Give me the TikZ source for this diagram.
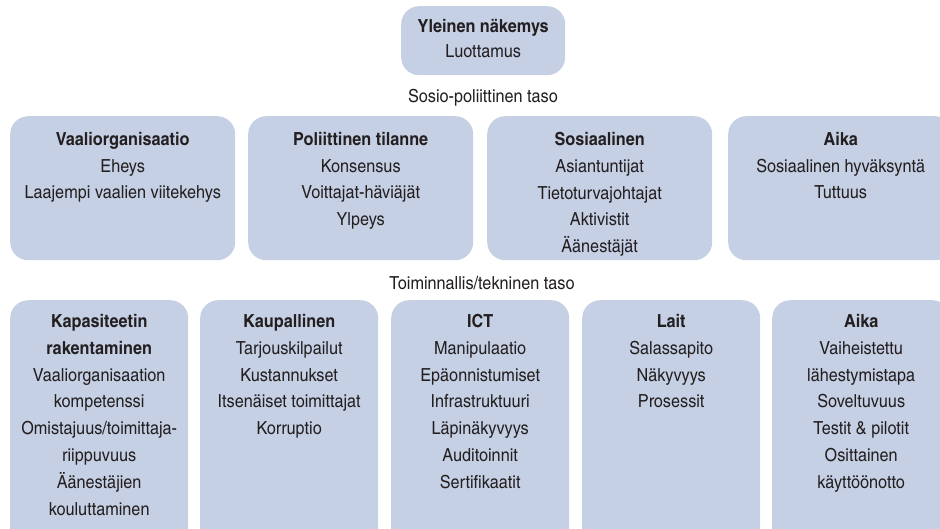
\documentclass[tikz,border=0pt]{standalone}
\usepackage{xcolor}
\usepackage{fontspec}
\setmainfont{texgyreheroscn}[Extension=.otf, UprightFont=*-regular, BoldFont=*-bold, FakeStretch=1.1]
\definecolor{tilefill}{RGB}{198,208,228}
\definecolor{inkdark}{RGB}{35,31,32}

\begin{document}
\begin{tikzpicture}[
  x=1pt, y=-1pt,
  tile/.style={fill=tilefill, rounded corners=18pt, anchor=north west, inner sep=0pt},
  headtile/.style={tile, minimum width=164pt, minimum height=69pt},
  midtile/.style={tile, minimum width=225pt, minimum height=144pt},
  lowtile/.style={tile, minimum width=178pt, minimum height=260pt},
  words/.style={anchor=north, align=center, inner sep=0pt, text=inkdark, font=\fontsize{18}{26.8}\selectfont},
  taso/.style={anchor=base, inner sep=0pt, text=inkdark, font=\fontsize{18}{20}\selectfont}
]
\clip (0,0) rectangle (940,528);

\node[headtile] (yleinen) at (401,6) {};
\node[words] (yleinen text) at ([yshift=-13pt]yleinen.north) {\textbf{Yleinen näkemys}\\[-2pt]Luottamus};

\node[taso] (sosio) at (483,102) {Sosio-poliittinen taso};

\node[midtile] (vaali) at (10,116) {};
\node[midtile] (politiikka) at (248,116) {};
\node[midtile] (sosiaalinen) at (487,116) {};
\node[midtile] (aika) at (728,116) {};
\node[words] (vaali text) at ([yshift=-16pt]vaali.north) {\textbf{Vaaliorganisaatio}\\Eheys\\Laajempi vaalien viitekehys};
\node[words] (politiikka text) at ([yshift=-16pt]politiikka.north) {\textbf{Poliittinen tilanne}\\Konsensus\\Voittajat-häviäjät\\Ylpeys};
\node[words] (sosiaalinen text) at ([yshift=-16pt]sosiaalinen.north) {\textbf{Sosiaalinen}\\Asiantuntijat\\Tietoturvajohtajat\\Aktivistit\\Äänestäjät};
\node[words] (aika text) at ([yshift=-16pt]aika.north) {\textbf{Aika}\\Sosiaalinen hyväksyntä\\Tuttuus};

\node[taso] (tekninen) at (482,289) {Toiminnallis/tekninen taso};

\node[lowtile] (kapasiteetti) at (10,300) {};
\node[lowtile] (kaupallinen) at (200,300) {};
\node[lowtile] (ict) at (391,300) {};
\node[lowtile] (lait) at (582,300) {};
\node[lowtile] (aikatek) at (772,300) {};
\node[words] (kapasiteetti text) at ([yshift=-14pt]kapasiteetti.north) {\textbf{Kapasiteetin}\\\textbf{rakentaminen}\\Vaaliorganisaation\\kompetenssi\\Omistajuus/toimittaja-\\riippuvuus\\Äänestäjien\\kouluttaminen};
\node[words] (kaupallinen text) at ([yshift=-14pt]kaupallinen.north) {\textbf{Kaupallinen}\\Tarjouskilpailut\\Kustannukset\\Itsenäiset toimittajat\\Korruptio};
\node[words] (ict text) at ([yshift=-14pt]ict.north) {\textbf{ICT}\\Manipulaatio\\Epäonnistumiset\\Infrastruktuuri\\Läpinäkyvyys\\Auditoinnit\\Sertifikaatit};
\node[words] (lait text) at ([yshift=-14pt]lait.north) {\textbf{Lait}\\Salassapito\\Näkyvyys\\Prosessit};
\node[words] (aikatek text) at ([yshift=-14pt]aikatek.north) {\textbf{Aika}\\Vaiheistettu\\lähestymistapa\\Soveltuvuus\\Testit \& pilotit\\Osittainen\\käyttöönotto};
\end{tikzpicture}
\end{document}
